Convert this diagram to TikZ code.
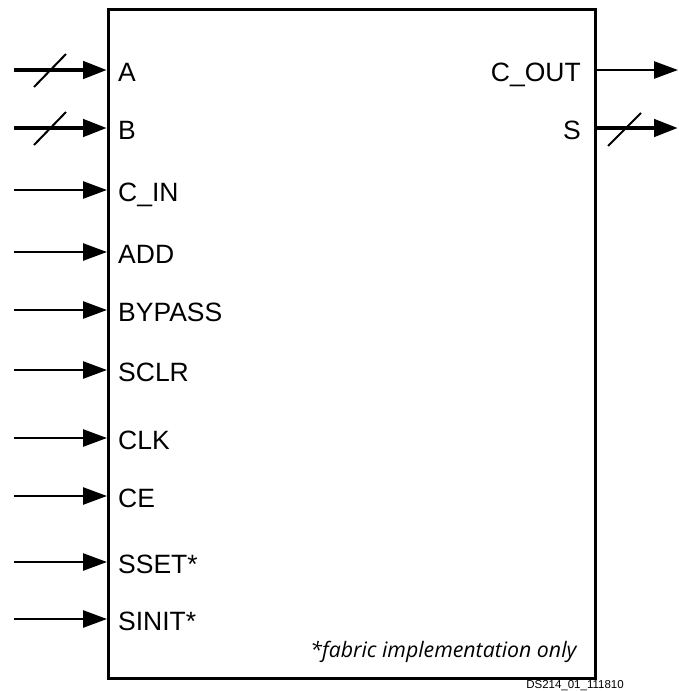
\documentclass[tikz,border=0pt]{standalone}
\usepackage{fontspec}
\setmainfont{Liberation Sans}
\newfontfamily\noteFont{Open Sans}
\usetikzlibrary{arrows.meta, positioning}
\definecolor{mainBlack}{gray}{0.0}

\tikzset{
  pinL/.style={anchor=west, inner xsep=11pt, inner ysep=0pt, text height=22pt, text depth=0pt},
  pinR/.style={anchor=east, inner xsep=13pt, inner ysep=0pt, text height=22pt, text depth=0pt},
  sig/.style={line width=2.6pt, ->},
  bus/.style={line width=4.6pt, ->},
  busMark/.style={line width=2pt}
}

\begin{document}
\begin{tikzpicture}[x=1pt, y=-1pt, >={Triangle[length=24pt, width=17pt]}, font=\fontsize{26.5}{30}\selectfont, mainBlack]
    \useasboundingbox (0,0) rectangle (678,691);

    % Block
    \node[draw, line width=3pt, minimum width=487pt, minimum height=669pt, inner sep=0pt, anchor=north west] (blk) at (107,8) {};

    % Input labels
    \node[pinL] (lA) at (107,70) {A};
    \node[pinL] (lB) at (107,128) {B};
    \node[pinL] (lCin) at (107,190) {C\_IN};
    \node[pinL] (lAdd) at (107,252) {ADD};
    \node[pinL] (lByp) at (107,310) {BYPASS};
    \node[pinL] (lSclr) at (107,370) {SCLR};
    \node[pinL] (lClk) at (107,438) {CLK};
    \node[pinL] (lCe) at (107,496) {CE};
    \node[pinL] (lSset) at (107,562) {SSET*};
    \node[pinL] (lSinit) at (107,619) {SINIT*};

    % Output labels
    \node[pinR] (lCout) at (594,70) {C\_OUT};
    \node[pinR] (lS) at (594,128) {S};

    % Free ends of the connectors
    \coordinate (iA) at (14,70);
    \coordinate (iB) at (14,128);
    \coordinate (iCin) at (14,190);
    \coordinate (iAdd) at (14,252);
    \coordinate (iByp) at (14,310);
    \coordinate (iSclr) at (14,370);
    \coordinate (iClk) at (14,438);
    \coordinate (iCe) at (14,496);
    \coordinate (iSset) at (14,562);
    \coordinate (iSinit) at (14,619);
    \coordinate (oCout) at (678,70);
    \coordinate (oS) at (678,128);

    % Buses
    \draw[bus] (iA) -- (lA.west);
    \draw[bus] (iB) -- (lB.west);
    \draw[bus] (lS.east) -- (oS);
    \draw[busMark] (34,87) -- (66,54);
    \draw[busMark] (34,145) -- (66,112);
    \draw[busMark] (608,146) -- (641,113);

    % Single signals
    \draw[sig] (iCin) -- (lCin.west);
    \draw[sig] (iAdd) -- (lAdd.west);
    \draw[sig] (iByp) -- (lByp.west);
    \draw[sig] (iSclr) -- (lSclr.west);
    \draw[sig] (iClk) -- (lClk.west);
    \draw[sig] (iCe) -- (lCe.west);
    \draw[sig] (iSset) -- (lSset.west);
    \draw[sig] (iSinit) -- (lSinit.west);
    \draw[sig] (lCout.east) -- (oCout);

    % Footnote and drawing number
    \node[anchor=east, font=\noteFont\itshape\fontsize{21.3}{24}\selectfont] (note) at (580,652) {*fabric implementation only};
    \node[font=\fontsize{11.5}{13}\selectfont] (dsNum) at (575,686) {DS214\_01\_111810};
\end{tikzpicture}
\end{document}
